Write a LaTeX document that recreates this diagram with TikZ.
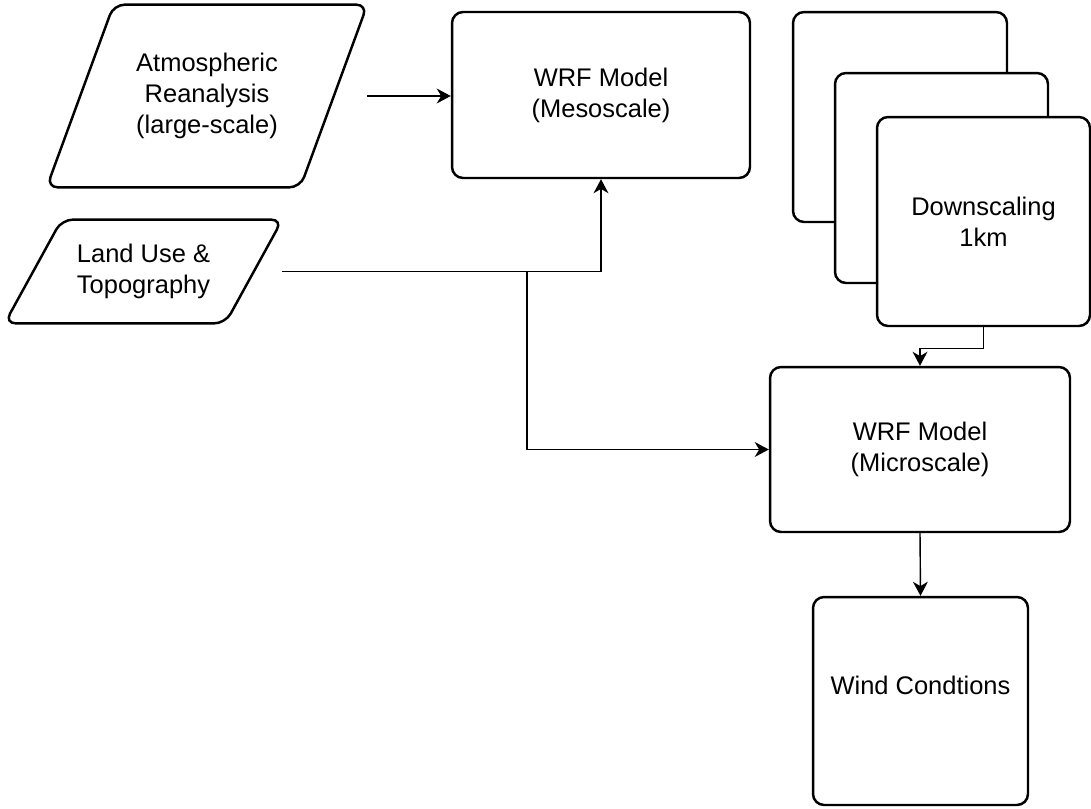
\documentclass[tikz,border=0pt]{standalone}
\usepackage{fontspec}
\setmainfont{Liberation Sans}
\usetikzlibrary{arrows.meta}

\tikzstyle{every node}=[font=\fontsize{14.5}{17.6}\selectfont, align=center]
\tikzstyle{box}=[draw=black, line width=1.4pt, rounded corners=0.22cm, fill=white, inner sep=0pt]
\tikzstyle{paratext}=[inner sep=0pt]
\tikzstyle{paraline}=[draw=black, line width=1.4pt, rounded corners=0.22cm]
\tikzstyle{link}=[line width=0.8pt, -{Stealth[length=8pt,width=8.5pt,inset=2.5pt]}]

\begin{document}
\begin{tikzpicture}[x=0.02cm, y=-0.02cm]
\useasboundingbox (0,0) rectangle (1091,808);

\node [paratext, minimum width=6.4cm, minimum height=3.64cm] (atmos) at (207,96) {Atmospheric\\Reanalysis\\(large-scale)};
\draw [paraline] (atmos.south west) -- ([xshift=1.34cm]atmos.north west) -- (atmos.north east) -- ([xshift=-1.34cm]atmos.south east) -- cycle;

\node [paratext, minimum width=5.54cm, minimum height=2.06cm] (land) at (143.5,271.5) {Land Use \&\\Topography};
\draw [paraline] (land.south west) -- ([xshift=1.14cm]land.north west) -- (land.north east) -- ([xshift=-1.14cm]land.south east) -- cycle;

\node [box, minimum width=5.96cm, minimum height=3.32cm] (meso) at (601,95) {WRF Model\\(Mesoscale)};

\node [box, minimum width=4.28cm, minimum height=4.2cm] (back) at (900,117) {};
\node [box, minimum width=4.26cm, minimum height=4.2cm] (middle) at (941.5,178) {};
\node [box, minimum width=4.26cm, minimum height=4.18cm] (front) at (983.5,221.5) {Downscaling\\1km};

\node [box, minimum width=6cm, minimum height=3.3cm] (micro) at (920,449.5) {WRF Model\\(Microscale)};
\node [box, minimum width=4.3cm, minimum height=4.16cm] (wind) at (920.5,701) {Wind Condtions\\\mbox{}};

\coordinate (split) at (527,271.5);

\draw [link] (atmos.east) -- (atmos.east -| meso.west);
\draw [link] (land.east) -| (meso.south);
\draw [link] (split) |- (micro.west);
\draw [link] (front.south) -- ++(0,21) -| (micro.north);
\draw [link] (micro.south) -- (wind.north);
\end{tikzpicture}
\end{document}
